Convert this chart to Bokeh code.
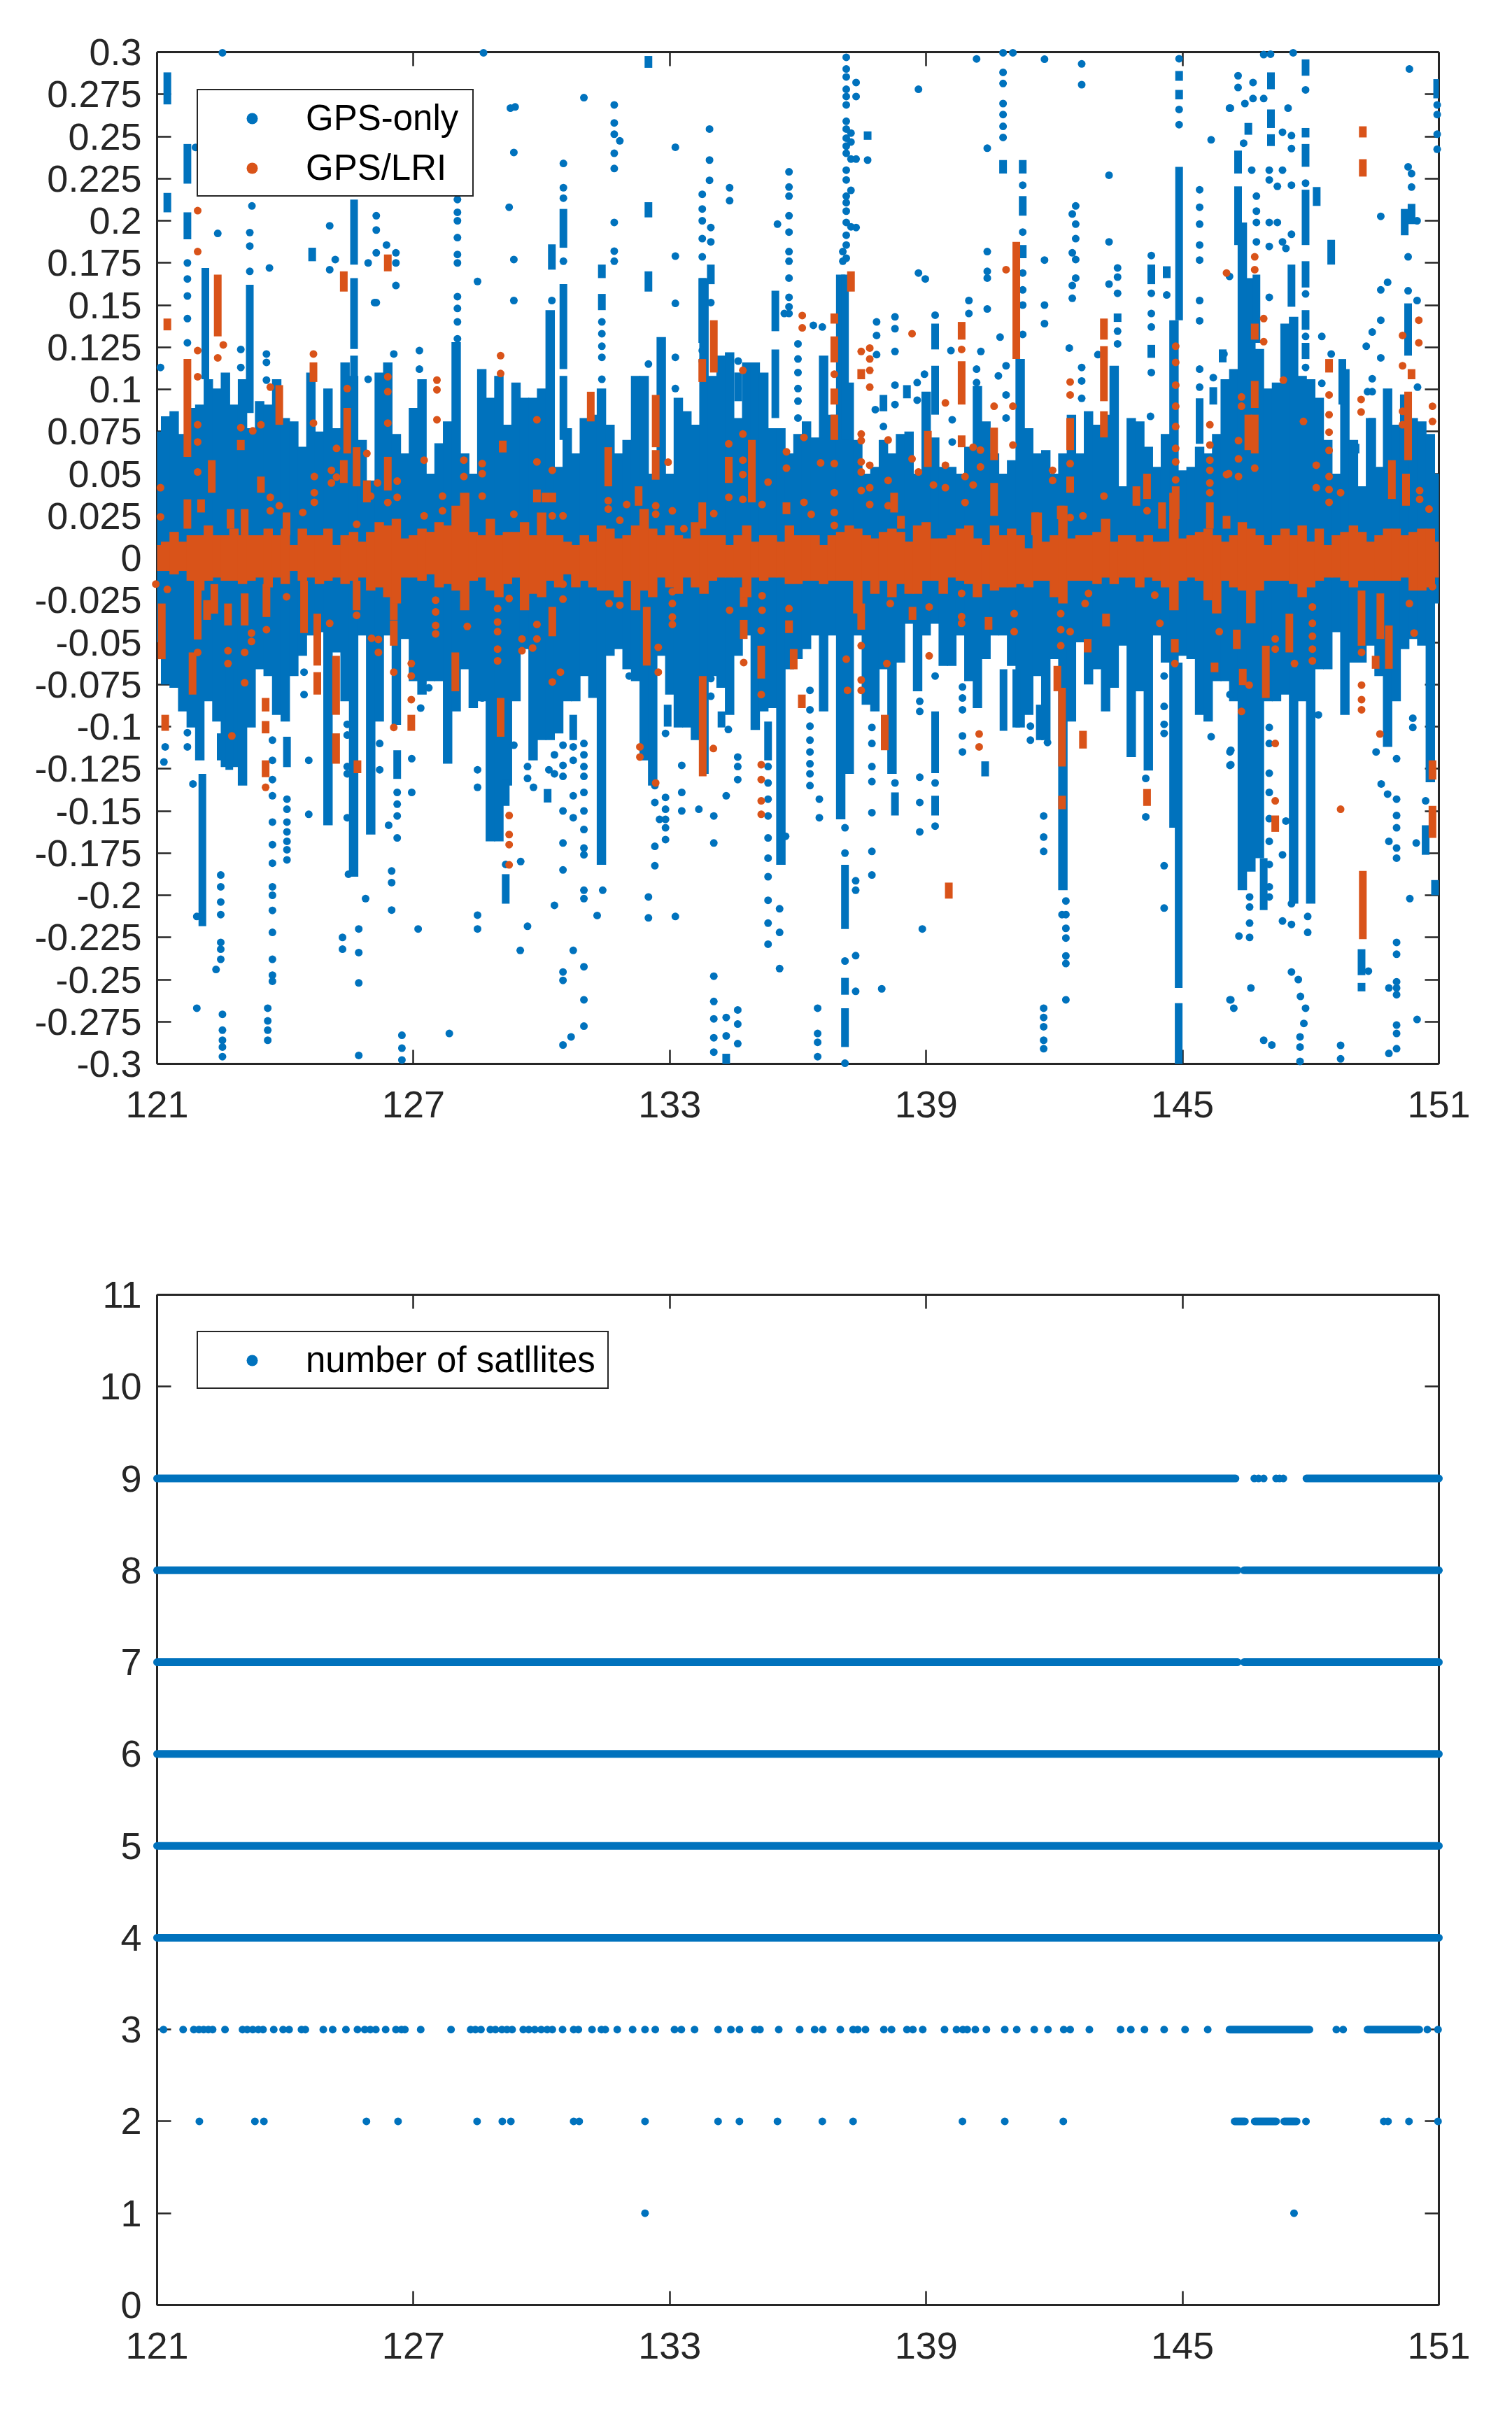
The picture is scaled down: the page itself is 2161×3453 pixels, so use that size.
from bokeh.plotting import figure
from bokeh.models import FixedTicker, LinearAxis, Legend, LegendItem, Range1d
from bokeh.layouts import column
from bokeh.embed import file_html
from bokeh.resources import INLINE

BLUE = "#0072BD"
ORANGE = "#D95319"
INK = "#262626"
FONT = "Liberation Sans"

x_ticks = [121, 127, 133, 139, 145, 151]
x_tick_labels = ["121", "127", "133", "139", "145", "151"]
res_ticks = [-0.3, -0.275, -0.25, -0.225, -0.2, -0.175, -0.15, -0.125, -0.1, -0.075, -0.05, -0.025, 0,
             0.025, 0.05, 0.075, 0.1, 0.125, 0.15, 0.175, 0.2, 0.225, 0.25, 0.275, 0.3]
res_tick_labels = ["-0.3", "-0.275", "-0.25", "-0.225", "-0.2", "-0.175", "-0.15", "-0.125", "-0.1", "-0.075",
                   "-0.05", "-0.025", "0", "0.025", "0.05", "0.075", "0.1", "0.125", "0.15", "0.175", "0.2",
                   "0.225", "0.25", "0.275", "0.3"]
sat_ticks = [0, 1, 2, 3, 4, 5, 6, 7, 8, 9, 10, 11]

days = [121.0, 121.2, 121.4, 121.6, 121.8, 122.0, 122.2, 122.4, 122.6, 122.8, 123.0, 123.2, 123.4, 123.6, 123.8,
        124.0, 124.2, 124.4, 124.6, 124.8, 125.0, 125.2, 125.4, 125.6, 125.8,
        126.0, 126.2, 126.4, 126.6, 126.8, 127.0, 127.2, 127.4, 127.6, 127.8, 128.0, 128.2, 128.4, 128.6, 128.8,
        129.0, 129.2, 129.4, 129.6, 129.8, 130.0, 130.2, 130.4, 130.6, 130.8,
        131.0, 131.2, 131.4, 131.6, 131.8, 132.0, 132.2, 132.4, 132.6, 132.8, 133.0, 133.2, 133.4, 133.6, 133.8,
        134.0, 134.2, 134.4, 134.6, 134.8, 135.0, 135.2, 135.4, 135.6, 135.8,
        136.0, 136.2, 136.4, 136.6, 136.8, 137.0, 137.2, 137.4, 137.6, 137.8, 138.0, 138.2, 138.4, 138.6, 138.8,
        139.0, 139.2, 139.4, 139.6, 139.8, 140.0, 140.2, 140.4, 140.6, 140.8,
        141.0, 141.2, 141.4, 141.6, 141.8, 142.0, 142.2, 142.4, 142.6, 142.8, 143.0, 143.2, 143.4, 143.6, 143.8,
        144.0, 144.2, 144.4, 144.6, 144.8, 145.0, 145.2, 145.4, 145.6, 145.8,
        146.0, 146.2, 146.4, 146.6, 146.8, 147.0, 147.2, 147.4, 147.6, 147.8, 148.0, 148.2, 148.4, 148.6, 148.8,
        149.0, 149.2, 149.4, 149.6, 149.8, 150.0, 150.2, 150.4, 150.6, 150.8, 151.0]

gps_upper = [.075,.084,.087,.0735,.089,.091,.106,.1005,.110,.091,.106,.077,.093,.091,.106,.083,.081,.066,.110,.075,.1005,.077,.116,.108,.070,
             .046,.110,.116,.0735,.062,.089,.106,.050,.068,.081,.128,.062,.050,.112,.095,.108,.079,.104,.095,.095,.1005,.147,.054,.077,.062,
             .083,.085,.1005,.079,.062,.070,.108,.108,.050,.131,.050,.095,.087,.079,.166,.108,.120,.122,.083,.116,.116,.110,.077,.077,.062,
             .0735,.081,.0715,.120,.085,.168,.104,.070,.050,.054,.070,.062,.0735,.075,.050,.0986,.0715,.054,.054,.050,.066,.102,.081,.062,.050,
             .058,.118,.077,.062,.064,.050,.062,.085,.062,.087,.079,.085,.114,.0425,.083,.081,.066,.054,.0735,.141,.052,.054,.066,.062,.0735,
             .106,.112,.199,.166,.124,.1005,.104,.139,.143,.108,.106,.095,.070,.050,.112,.070,.0425,.083,.054,.1005,.079,.097,.083,.081,.0735,.050]
gps_lower = [-.050,-.075,-.077,-.091,-.1005,-.120,-.085,-.097,-.124,-.124,-.135,-.1005,-.066,-.070,-.093,-.097,-.070,-.058,-.046,-.044,-.1585,-.056,-.085,-.189,-.046,
             -.164,-.097,-.046,-.099,-.048,-.073,-.081,-.073,-.073,-.122,-.091,-.066,-.089,-.085,-.168,-.168,-.135,-.085,-.054,-.120,-.108,-.108,-.104,-.085,-.085,
             -.070,-.083,-.182,-.058,-.054,-.066,-.073,-.120,-.135,-.058,-.081,-.1005,-.1005,-.108,-.128,-.070,-.077,-.093,-.058,-.046,-.102,-.091,-.089,-.182,-.066,
             -.060,-.054,-.046,-.091,-.046,-.155,-.128,-.046,-.087,-.091,-.066,-.128,-.062,-.039,-.079,-.046,-.039,-.064,-.064,-.046,-.073,-.089,-.060,-.046,-.046,
             -.064,-.1005,-.093,-.070,-.108,-.060,-.197,-.097,-.050,-.075,-.066,-.091,-.077,-.052,-.118,-.079,-.126,-.046,-.062,-.16,-.058,-.060,-.093,-.097,-.073,
             -.073,-.085,-.197,-.186,-.178,-.085,-.085,-.081,-.205,-.085,-.205,-.066,-.066,-.044,-.093,-.062,-.062,-.052,-.070,-.112,-.085,-.054,-.048,-.052,-.133,-.027]
lri_upper = [.0077,.0097,.0155,.0097,.0135,.0135,.0193,.0135,.0135,.0174,.0135,.0135,.0135,.0174,.0135,.0174,.0077,.0174,.0135,.0135,.0174,.0077,.0135,.0155,.0097,
             .0155,.0213,.0193,.0232,.0116,.0135,.0174,.0155,.0213,.0193,.031,.0387,.0155,.0135,.0232,.0135,.0155,.0155,.0213,.0135,.027,.0135,.0135,.0097,.0077,
             .0135,.0097,.0193,.0174,.0116,.0135,.0193,.029,.0174,.0135,.0193,.0135,.0116,.0213,.0135,.0135,.0135,.0077,.0135,.0193,.0097,.0135,.0135,.0097,.0193,
             .0135,.0135,.0135,.0077,.0135,.0155,.0193,.0174,.0135,.0116,.0155,.0174,.0155,.0097,.0193,.0213,.0116,.0116,.0135,.0174,.0193,.0116,.0077,.0193,.0135,
             .0174,.0135,.0058,.027,.0097,.0135,.031,.0116,.0135,.0135,.0155,.0232,.0097,.0135,.0135,.0097,.0135,.0097,.0097,.0387,.0116,.0135,.0155,.0174,.0135,
             .0097,.0135,.0213,.0174,.0135,.0077,.0135,.0174,.0135,.0193,.0097,.0174,.0077,.0135,.0155,.0193,.0155,.0097,.0135,.0174,.0174,.0135,.0155,.0174,.0174,.0097]
lri_lower = [-.0077,-.0077,-.0097,-.0077,-.0135,-.0193,-.0135,-.0116,-.0135,-.0135,-.0155,-.0135,-.0116,-.0174,-.0116,-.0155,-.0077,-.0135,-.0116,-.0155,-.0135,-.0116,-.0155,-.0135,-.0116,
             -.0193,-.0174,-.0232,-.027,-.0116,-.0116,-.0135,-.0097,-.0174,-.0155,-.0193,-.031,-.0135,-.0116,-.0193,-.0232,-.0155,-.0116,-.031,-.0213,-.0232,-.0135,-.0174,-.0097,-.0174,
             -.0135,-.0174,-.0193,-.0193,-.0232,-.0135,-.031,-.0193,-.0232,-.0116,-.0174,-.0213,-.0116,-.0174,-.0213,-.0135,-.0116,-.0116,-.0116,-.0232,-.0116,-.0135,-.0116,-.0116,-.0155,
             -.0155,-.0135,-.0135,-.0155,-.0135,-.0135,-.0135,-.0329,-.0135,-.0213,-.0135,-.0232,-.0155,-.0213,-.0213,-.0135,-.0135,-.0213,-.0116,-.0135,-.0155,-.0232,-.0155,-.0193,-.0174,
             -.0174,-.0155,-.0174,-.0135,-.0135,-.0232,-.027,-.0135,-.0135,-.0135,-.0155,-.0116,-.0155,-.0116,-.0116,-.0174,-.0116,-.0135,-.0174,-.031,-.0135,-.0116,-.0135,-.0251,-.0329,
             -.0135,-.0174,-.0193,-.0387,-.0193,-.0135,-.0135,-.0135,-.0155,-.0232,-.0174,-.0135,-.0116,-.0116,-.0135,-.0174,-.0135,-.0135,-.0135,-.0135,-.0135,-.0116,-.0193,-.0193,-.0174,-.0116]

# solid stacks of dots: (day, low value, high value)
gps_stacks = [
    (121.24,.269,.288),(121.24,.205,.2165),(121.71,.222,.2455),(121.71,.189,.205),(122.13,.106,.172),(123.17,.086,.162),
    (124.63,.176,.184),(125.61,.174,.2126),(125.61,.124,.166),(125.61,.104,.120),(122.06,-.2184,-.128),(122.49,-.12,-.104),
    (122.69,-.1256,-.066),(124.04,-.124,-.106),(126.62,-.131,-.114),(129.16,-.147,-.1314),(129.16,-.205,-.1875),
    (130.14,-.145,-.137),(130.74,-.108,-.093),(130.24,.171,.186),(130.51,.184,.207),(130.51,.112,.1624),(130.51,.07,.108),
    (131.41,.166,.174),(131.41,.147,.1566),(132.50,.2907,.2977),(132.50,.202,.211),(132.50,.158,.17),(132.95,-.1,-.087),
    (133.76,.1276,.166),(133.96,.1624,.174),(134.21,-.1005,-.091),(134.32,-.3,-.294),(134.60,.093,.11),(135.30,-.12,-.097),
    (135.47,.1345,.1585),(135.47,.083,.1237),(137.10,.07,.168),(137.10,-.22,-.182),(137.10,-.259,-.249),(137.10,-.29,-.267),
    (137.63,.248,.253),(138.27,-.1527,-.139),(138.55,.0947,.1025),(138.0,.087,.0967),(139.21,.1237,.139),(139.21,.085,.114),
    (139.21,-.1276,-.091),(139.21,-.1527,-.141),(140.38,-.1295,-.1206),(140.80,.228,.236),(140.81,-.1025,-.066),(141.11,-.1005,-.066),
    (141.26,.228,.236),(141.26,.203,.2146),(141.26,.1778,.1856),(141.66,-.108,-.087),(143.48,.14,.145),(144.27,.1624,.174),
    (144.27,.1187,.1264),(144.63,.166,.173),(144.92,.283,.2888),(144.92,.272,.2776),(144.92,.141,.232),(144.91,-.255,-.062),
    (144.91,-.3,-.264),(145.40,.0677,.0947),(145.94,.116,.1237),(145.72,.091,.1013),(146.30,.228,.2416),(146.30,.1856,.2204),
    (146.54,.251,.258),(146.73,.1276,.168),(147.07,.278,.288),(147.07,.255,.266),(147.07,.2443,.2513),(147.55,.149,.174),
    (147.88,.286,.2957),(147.88,.2494,.255),(147.88,.232,.2455),(147.88,.1856,.2184),(147.88,.1604,.176),(147.88,.1353,.147),
    (147.88,.118,.1276),(148.14,.2088,.22),(148.48,.174,.1887),(148.74,.091,.118),(149.05,.062,.0677),(149.44,.054,.083),
    (146.90,-.2088,-.178),(149.19,-.2474,-.232),(149.19,-.257,-.252),(150.20,.1914,.207),(150.28,.12,.151),(150.36,.198,.21),
    (150.96,.2726,.284),(150.69,-.176,-.1585),(150.91,-.2,-.191)]

# isolated dots grouped by day: (day, [values])
gps_dots_upper_a = [
    (122.53,[.2996]),(121.71,[.175,.1655,.1554,.142,.1276]),(121.08,[.113]),(121.90,[.2435]),(123.22,[.2088]),(125.04,[.197,.171]),
    (125.17,[.177]),(123.63,[.172]),(125.94,[.175,.106]),(126.09,[.1515]),(122.42,[.1925]),(122.96,[.1237,.113]),(123.56,[.121,.116,.1055]),
    (123.17,[.193,.185,.17]),(126.13,[.203,.1945,.181,.1515]),(126.37,[.1856]),(126.59,[.181,.175,.1616]),(126.54,[.121]),(127.14,[.123,.112]),
    (128.64,[.2996]),(129.27,[.2668]),(129.38,[.2675]),(129.35,[.2405,.177,.1527]),(129.24,[.208]),(128.50,[.164]),(130.99,[.273]),
    (130.51,[.234,.2196,.2134,.176]),(130.24,[.1527]),(128.03,[.2126,.205,.2,.19,.18,.175,.155,.148,.14,.13])]
gps_dots_upper_b = [
    (131.41,[.14,.133,.1256,.119,.106]),(131.70,[.2687,.258,.2513,.24,.231,.199,.182,.176]),(131.83,[.2474]),(133.13,[.2436,.179,.151,.119,.1005]),
    (132.50,[.115]),(133.93,[.2544,.236,.224]),(133.76,[.2157,.207,.2,.1894,.1786,.123,.1168]),(133.96,[.196,.1875,.1515]),(134.40,[.2196,.2119]),
    (135.52,[.198]),(135.79,[.229,.22,.2146,.203,.1933,.1817,.176,.166,.1546,.149,.145]),(135.68,[.145]),(134.60,[.1168]),(136.0,[.127,.118,.11,.1005,.093,.083]),
    (137.13,[.2969,.29,.2853,.278,.2737,.2687,.259,.2544,.249,.2443,.24,.23,.2242,.2146,.2107,.2057,.199,.1914,.1856,.1778]),
    (137.24,[.252,.2467,.2366,.218,.1964]),(137.36,[.282,.2737,.2366,.196]),(137.05,[.1817,.176]),(137.63,[.236]),(138.82,[.278,.169]),(138.98,[.1655]),
    (140.18,[.296]),(140.43,[.243,.1817,.17,.166,.1477]),(140.80,[.2996,.288,.2814,.2695,.263,.256,.2494]),(141.03,[.2996]),(140.0,[.1527,.145]),
    (139.21,[.144]),(140.73,[.131]),(137.84,[.14,.132,.1206]),(138.27,[.143,.136,.1225,.1025,.091]),(136.36,[.138]),(136.57,[.137]),(138.0,[.078]),
    (137.81,[.088]),(138.96,[.109]),(138.79,[.104,.0936]),(139.58,[.123]),(140.28,[.1225]),(140.18,[.104,.112]),(140.69,[.108]),(140.87,[.114,.0967,.083]),
    (139.61,[.082,.0688])]
gps_dots_upper_c = [
    (141.77,[.2958,.1767,.15,.139]),(141.26,[.2211,.1933,.169,.159,.15,.1326]),(142.64,[.293,.2807,.113,.105,.0947]),(142.50,[.2088,.198,.1894,.177,.166]),
    (142.42,[.204,.181,.1616,.154]),(142.35,[.1245]),(143.28,[.227,.1875,.1624]),(143.02,[.1206]),(143.48,[.172,.1666,.157,.1345,.127]),
    (144.27,[.1794,.157,.145,.137,.11]),(144.63,[.156]),(144.92,[.2961,.266,.257]),(145.67,[.248]),(146.10,[.2668,.167]),(145.40,[.2184,.208,.198,.1856,.1767,.1527,.1407,.112,.1013]),
    (145.72,[.107]),(144.25,[.084]),(146.30,[.286,.279]),(146.65,[.282,.2725]),(146.46,[.2695]),(146.12,[.2668]),(146.90,[.2985,.2725]),(147.06,[.2988]),(147.59,[.2996]),
    (147.88,[.2776,.2223,.1566,.1314,.113]),(147.47,[.2668]),(146.43,[.246]),(146.62,[.23]),(146.73,[.2146,.2057,.199,.1875]),(147.03,[.23,.2242,.199,.1848,.1546]),
    (147.22,[.2204,.199]),(147.34,[.2525,.23,.1875]),(147.42,[.1836]),(147.55,[.2505,.2428,.2211,.192]),(148.48,[.121]),(148.26,[.1314,.1036]),(149.30,[.1256]),(149.44,[.134,.1063,.0986]),
    (149.33,[.0986]),(149.64,[.2026,.159,.141,.1187]),(149.80,[.1635]),(150.31,[.29]),(150.28,[.232,.1786,.1585]),(150.36,[.228,.22]),(150.49,[.1527,.2]),(150.50,[.1013]),
    (150.96,[.2687,.263,.2513,.2424]),(145.97,[.121])]
gps_dots_lower_a = [
    (121.19,[-.112]),(121.16,[-.121]),(121.71,[-.1036,-.112]),(121.84,[-.134]),(121.93,[-.2126,-.267]),(122.49,[-.188,-.195,-.204,-.2115,-.228,-.232,-.238]),
    (122.38,[-.244]),(122.53,[-.2706,-.28,-.286,-.29,-.2957]),(123.70,[-.108,-.12,-.1314,-.141,-.1566,-.17,-.181,-.195,-.2,-.209,-.222,-.238,-.2474,-.251]),
    (123.59,[-.267,-.2745,-.28,-.286]),(124.04,[-.143,-.149,-.1566,-.1624,-.168,-.173,-.179]),(124.55,[-.12,-.152]),(124.44,[-.0677,-.081]),
    (125.45,[-.0986,-.105,-.1237,-.128,-.154]),(125.48,[-.1875]),(125.88,[-.202]),(125.34,[-.225,-.232]),(125.72,[-.22,-.234,-.252,-.295]),
    (126.62,[-.139,-.146,-.153,-.166]),(126.49,[-.1856,-.1925,-.2088]),(126.42,[-.1585]),(126.21,[-.11,-.1256]),(126.73,[-.283,-.2907,-.2977]),(127.11,[-.22]),
    (126.96,[-.119,-.139]),(127.17,[-.089]),(127.36,[-.077]),(127.84,[-.282]),(128.50,[-.1256,-.136,-.2118,-.22]),(128.61,[-.083]),(129.16,[-.1817]),(129.35,[-.111]),
    (129.51,[-.18]),(129.67,[-.1237,-.1307,-.2184]),(129.50,[-.2327]),(129.81,[-.136]),(130.30,[-.1167,-.128,-.206]),(130.17,[-.1256]),
    (130.50,[-.111,-.123,-.1295,-.15,-.169,-.185,-.2455,-.2505,-.2888]),(130.74,[-.112,-.12,-.141,-.154,-.2327]),
    (130.99,[-.11,-.1167,-.1237,-.1295,-.139,-.15,-.161,-.172,-.176,-.197,-.202,-.2424,-.262,-.2776]),(130.69,[-.284])]
gps_dots_lower_b = [
    (131.43,[-.197]),(131.30,[-.212]),(132.05,[-.07]),(132.50,[-.201,-.2134]),(132.65,[-.135,-.145,-.171,-.1825]),(132.90,[-.104,-.142,-.149,-.155,-.16,-.167]),
    (132.76,[-.155]),(133.13,[-.2126]),(133.28,[-.123,-.139,-.15]),(133.68,[-.149]),(134.03,[-.153,-.169,-.248,-.263,-.2733,-.2845,-.293]),(134.32,[-.141,-.2725,-.2834]),
    (134.59,[-.118,-.1237,-.1314,-.268,-.2764,-.288]),(134.37,[-.1017]),(133.96,[-.0715,-.082]),(135.30,[-.1237,-.1334,-.143,-.153,-.166,-.178,-.189,-.203,-.2165,-.229]),
    (135.57,[-.208,-.222,-.2435]),(135.71,[-.165]),(136.28,[-.0785,-.09,-.0997,-.108,-.115,-.122,-.128,-.135]),(136.50,[-.143,-.154]),(136.46,[-.267,-.282,-.2872,-.2957]),
    (137.10,[-.16,-.175,-.239,-.2996]),(137.35,[-.1914,-.197,-.2358,-.257]),(138.27,[-.1334]),(137.73,[-.1005,-.11,-.1237,-.1326,-.151,-.174,-.188]),(137.96,[-.2555]),
    (138.85,[-.085,-.091,-.13,-.145,-.1624]),(138.91,[-.22]),(139.21,[-.07,-.1334,-.159]),(139.85,[-.0765,-.083,-.09,-.1055,-.115])]
gps_dots_lower_c = [
    (141.44,[-.0997,-.108]),(141.84,[-.1094]),(141.75,[-.153,-.1655,-.174,-.267,-.2725,-.278,-.286,-.291]),(142.27,[-.2034,-.2115,-.2196,-.2254,-.236,-.2405,-.262]),
    (142.18,[-.2115]),(144.14,[-.1307,-.1535]),(144.57,[-.07,-.088,-.0986,-.104,-.1825,-.2076]),(145.67,[-.106]),(146.11,[-.115,-.123,-.081,-.262]),
    (146.57,[-.201,-.207,-.2165,-.225]),(146.32,[-.2242]),(146.13,[-.114,-.1226,-.262]),(146.20,[-.267]),(146.60,[-.255]),(146.90,[-.286]),(147.09,[-.2888]),
    (147.03,[-.1005,-.11,-.1276,-.139,-.1546,-.168,-.1817,-.195,-.201]),(147.34,[-.176,-.2153]),(147.42,[-.156]),(147.55,[-.205,-.2173,-.2455]),(147.71,[-.25]),(147.76,[-.26]),
    (147.88,[-.267]),(147.84,[-.276]),(147.75,[-.284,-.29,-.2985]),(147.93,[-.2126,-.222]),(148.18,[-.093]),(148.70,[-.289,-.297]),(149.35,[-.245]),(149.53,[-.115]),
    (149.65,[-.134]),(149.80,[-.14]),(150.01,[-.119,-.143,-.1527,-.16,-.172,-.178,-.228,-.235,-.2513,-.255,-.259,-.277,-.282,-.291]),(149.83,[-.168,-.255,-.2938]),
    (150.39,[-.095,-.1005]),(150.47,[-.169]),(150.49,[-.2737]),(150.32,[-.202]),(150.69,[-.144])]

lri_stacks = [
    (121.24,.135,.142),(121.71,.06,.118),(121.71,.0174,.0348),(122.03,.027,.0348),(122.28,.0387,.058),(122.42,.1314,.168),(121.11,-.06,-.027),
    (121.19,-.1025,-.093),(121.95,-.0483,-.0116),(122.17,-.0367,-.025),(121.83,-.081,-.056),(122.34,-.033,-.0155),(122.72,.0174,.029),(122.66,-.04,-.027),
    (122.96,.064,.07),(123.43,.0387,.0483),(123.05,.0135,.029),(123.86,.079,.1025),(123.05,-.04,-.021),(123.56,-.035,-.0155),(123.54,-.091,-.083),(123.54,-.104,-.0967),
    (123.54,-.13,-.12),(124.03,.0135,.027),(124.44,-.0445,-.0135),(124.66,.1044,.116),(124.75,-.0638,-.033),(124.75,-.081,-.0677),(125.19,-.093,-.058),(125.19,-.122,-.104),
    (125.37,.158,.17),(125.45,.062,.089),(125.37,.0445,.058),(125.67,.0425,.0657),(125.67,-.031,-.0135),(125.69,-.1276,-.12),(125.91,.033,.046),
    (126.40,.17,.18),(126.40,.04,.06),(126.54,-.0367,-.023),(126.54,-.052,-.037),(126.95,-.1025,-.093),(127.98,-.079,-.056),(129.09,.0626,.0696),(129.04,-.106,-.083),
    (129.89,.033,.0406),(130.25,.033,.0387),(130.09,.033,.0387),(130.25,-.0464,-.029),(131.15,.081,.0986),(131.56,.0425,.0657),(132.27,.031,.0425),(132.67,.0657,.0967),
    (132.67,.0464,.064),(132.46,-.0638,-.029),(133.76,.1044,.118),(133.76,.0174,.033),(134.03,.11,.141),(133.77,-.1295,-.07),(134.38,.0445,.06),(134.92,.033,.07),
    (134.73,-.029,-.0174),(134.73,-.048,-.0367),(135.14,-.0715,-.052),(135.73,.026,.033),(135.79,-.0445,-.037),(135.90,-.066,-.054),(136.09,-.089,-.081),
    (136.85,.139,.145),(136.85,.116,.1314),(136.85,.091,.1005),(136.85,.07,.085),(137.24,.158,.17),(137.48,.106,.112),(137.48,-.0425,-.027),(138.03,-.114,-.093),
    (138.25,.027,.0387),(138.41,.0174,.025),(139.04,.054,.0754),(138.68,-.0367,-.029),(139.53,-.202,-.1925),(139.83,.1295,.14),(139.83,.091,.1167),(139.83,.0657,.0727),
    (140.46,-.0425,-.035),(140.59,.058,.0773),(140.59,.025,.0445),(141.11,.118,.1875),(141.55,.0135,.027),(142.07,-.079,-.064),(142.18,-.1237,-.077),(142.18,-.149,-.141),
    (142.37,.064,.083),(142.37,.0387,.0483),(142.15,.023,.031),(142.78,-.056,-.048),(142.67,-.113,-.1025),(143.16,.1295,.142),(143.16,.093,.1256),(143.16,.0715,.087),
    (143.21,-.0406,-.033),(143.92,.031,.0425),(144.17,.035,.05),(144.17,-.147,-.137),(144.52,.0174,.033),(144.82,-.056,-.048),(144.84,.023,.0425),(145.64,.0174,.033),
    (145.75,-.0677,-.062),(146.03,.0174,.025),(146.54,.064,.085),(146.69,.089,.105),(146.69,.062,.085),(146.69,.1295,.139),(146.27,-.054,-.0425),(146.41,-.0754,-.0657),
    (146.95,-.083,-.052),(147.17,-.1624,-.1527),(147.50,-.056,-.033),(148.43,.11,.118),(149.22,.2494,.256),(149.22,.2262,.2365),(149.19,-.052,-.0193),(149.22,-.226,-.1856),
    (149.63,-.048,-.021),(149.52,-.0657,-.058),(149.83,-.0657,-.04),(149.90,.035,.058),(150.28,.058,.0986),(150.85,-.1314,-.12),(150.85,-.166,-.147),(150.23,.031,.05),(150.36,.106,.112)]

lri_dots_a = [
    (121.95,[.206,.1817,.123,.1075,.079,.0688,.051,-.056]),(122.42,[.1187]),(122.55,[.1264]),(121.08,[.0417,.0244]),(120.97,[-.0155]),(121.24,[-.0186]),(122.75,[-.1055]),
    (122.66,[-.055,-.0626]),(122.96,[.0773]),(123.24,[.0754]),(123.43,[.079]),(123.65,[.036,.028,.1013]),(123.86,[.031]),(123.21,[-.0445,-.0495]),(123.05,[-.056,-.074]),
    (123.56,[-.0425]),(123.54,[-.136]),(124.03,[-.023]),(124.41,[.027]),(124.66,[.121,.08]),(124.68,[.0483,.0387,.033]),(125.04,[-.0387]),(125.08,[.052,.0445]),(125.2,[.065,.048]),
    (125.45,[.1005]),(125.67,[.02,-.034]),(125.91,[.062]),(126.02,[-.0476]),(126.0,[.0367]),(126.40,[.1075,.0986,.08,.0329]),(126.62,[.0456,.036]),(126.16,[.0445]),(126.54,[-.0677,-.1005]),
    (126.18,[-.0483,-.056]),(126.95,[-.0626,-.07,-.084]),(127.25,[.058,.025]),(127.55,[.1055,.0997,.082]),(127.68,[.0367,.028]),(127.52,[-.025,-.032,-.04,-.045]),(128.18,[.058,.0483]),
    (128.26,[-.0406]),(128.61,[.056,.05,.0367]),(129.04,[.12,.1094]),(129.35,[.026]),(128.97,[-.03,-.038,-.0437,-.054,-.061]),(129.24,[-.024,-.1527,-.164,-.17,-.182]),
    (129.54,[-.048,-.055]),(129.79,[-.0534]),(129.89,[.082,.057,-.0394,-.048]),(130.25,[.052,.025,-.0735]),(130.44,[-.0677]),(130.50,[.025,-.0155,-.0244])]
lri_dots_b = [
    (131.56,[.034,.029]),(131.58,[-.027]),(131.83,[.0224,-.028]),(131.99,[.0317]),(132.30,[-.112,-.118]),(132.67,[.031,.026,-.1334]),(132.73,[-.053,-.0677]),(132.96,[.0568]),
    (133.06,[.028,-.02,-.027,-.035,-.0394]),(133.33,[.0174]),(134.03,[.0263]),(134.02,[-.113]),(134.38,[.0677,.036]),(134.40,[-.031]),(134.71,[.1113,.0735,.058,.0495,.0348]),
    (134.73,[-.062]),(135.14,[-.043,-.081,-.1226,-.1314,-.144,-.152]),(135.16,[-.0224,-.031,.0317]),(135.30,[.045]),(135.73,[.063,.0533]),(135.79,[-.03]),(136.10,[.1438,.1365]),
    (136.14,[.0715,.033]),(136.31,[.0259]),(136.53,[.0564]),(136.85,[.109,.056,.0387,.027,.0193]),(137.13,[-.06]),(137.16,[-.0785]),(137.48,[.1225,.0735,.0696,.057,.051,.04,-.052,-.0723,-.0785]),
    (137.68,[.1245,.118,.1113,.1013,.055,.0417,.0317]),(138.11,[.07,.046,.031]),(138.08,[-.0626]),(138.16,[-.027]),(138.67,[.133,.0588]),(138.82,[.051]),(139.17,[.0433]),(139.07,[-.029,-.058]),
    (139.45,[.092,.055,.0417]),(139.83,[.1237,-.021,-.0348,-.0387]),(139.91,[.0483,.0329]),(140.24,[-.1044,-.112]),(140.10,[.0657,.0433]),(140.27,[.064,.054]),(140.59,[.09]),(140.87,[.171]),
    (141.03,[.09,.067]),(141.06,[-.033,-.0437])]
lri_dots_c = [
    (141.96,[.052,.046]),(142.37,[.1044,.0967,.056,.024,-.0437]),(142.15,[-.033,-.0425,-.052]),(142.67,[.025]),(142.80,[-.021]),(142.72,[-.027]),(143.16,[.0367]),(143.21,[.0]),(144.17,[.028]),
    (144.35,[-.022]),(144.47,[-.0387]),(144.84,[.1256,.116,.1025,.09,.078,.065,.057,.0464]),(144.82,[-.0626]),(145.64,[.079,.067,.058,.052,.0445,.0387]),(145.86,[-.0437]),
    (146.03,[.169,.0495]),(146.38,[.0955,.09,-.091]),(146.31,[.0696,.0588,.0483]),(146.69,[.1786,.171,.0533]),(146.90,[.142,.1283]),(146.08,[.05]),(146.56,[-.0754]),
    (147.17,[-.048,-.054,-.11,-.144]),(147.36,[.1055]),(147.83,[.081]),(147.62,[-.0626]),(148.04,[-.029,-.0387,-.0464,-.054,-.061]),
    (148.43,[.0967,.085,.0746,.0638,.0483,.0406,.033]),(148.13,[.055,.0417]),(148.70,[.0387,-.149]),(149.18,[.094,.0866]),(149.19,[-.056,-.0754,-.084,-.09]),(149.62,[-.1044]),
    (150.15,[.132,.114,.087,.079]),(150.53,[.141,.1276]),(150.31,[-.027]),(150.42,[-.0445]),(150.55,[.04,.0348]),(150.77,[.029]),(150.85,[.09,.081,-.017])]

# number of satellites: continuous runs (count, first day, last day)
sat_runs = [(9,121.0,146.24),(9,147.9,151.0),(8,121.0,146.29),(8,146.44,151.0),(7,121.0,146.29),(7,146.44,151.0),
            (6,121.0,151.0),(5,121.0,151.0),(4,121.0,151.0),(3,146.10,147.97),(3,149.33,150.54),(2,146.22,146.46),
            (2,146.69,147.19),(2,147.38,147.67)]
sat_9_days = [146.68,146.78,146.9,147.19,147.27,147.36]
sat_3_days = [121.15,121.61,121.86,121.98,122.09,122.20,122.30,122.59,123.0,123.11,123.24,123.37,123.48,123.73,123.95,124.09,124.38,124.47,
              124.89,125.11,125.42,125.69,125.86,125.99,126.12,126.35,126.59,126.72,126.80,127.17,127.88,128.34,128.45,128.58,128.80,128.92,129.07,
              129.19,129.31,129.57,129.70,129.84,129.99,130.13,130.25,130.49,130.75,130.86,131.18,131.40,131.49,131.77,132.13,132.42,132.66,133.11,
              133.27,133.58,134.13,134.43,134.63,134.99,135.11,135.55,136.04,136.39,136.58,136.99,137.29,137.40,137.58,138.01,138.19,138.55,138.69,
              138.92,139.43,139.71,139.86,139.96,140.15,140.41,140.84,141.12,141.53,141.85,142.22,142.37,142.82,143.55,143.79,144.11,144.57,145.06,
              145.59,148.6,148.76,150.73,150.98]
sat_2_days = [121.99,123.29,123.50,125.90,126.64,128.49,129.08,129.28,130.75,130.88,132.42,134.13,134.63,135.52,136.57,137.29,139.85,140.84,
              142.21,147.89,149.71,149.81,150.30,150.98]
sat_1_days = [132.42,147.61]


def flat(*groups):
    xs, ys = [], []
    for g in groups:
        for d, vals in g:
            for v in vals:
                xs.append(d)
                ys.append(v)
    return xs, ys


def style(p, yt, ylabels):
    p.xgrid.visible = False
    p.ygrid.visible = False
    p.outline_line_color = None
    p.background_fill_color = "white"
    p.border_fill_color = "white"
    p.add_layout(LinearAxis(), "above")
    p.add_layout(LinearAxis(), "right")
    for ax, ticks, labels in [(p.below[0], x_ticks, x_tick_labels), (p.above[0], x_ticks, None),
                              (p.left[0], yt, ylabels), (p.right[0], yt, None)]:
        ax.ticker = FixedTicker(ticks=ticks)
        ax.major_tick_in = 20
        ax.major_tick_out = 0
        ax.minor_tick_line_color = None
        ax.major_tick_line_color = INK
        ax.major_tick_line_width = 2.5
        ax.axis_line_color = INK
        ax.axis_line_width = 3
        if labels is None:
            ax.major_label_overrides = {t: "" for t in ticks}
            ax.major_label_standoff = 0
        else:
            ax.major_label_overrides = dict(zip(ticks, labels))
            ax.major_label_text_font = FONT
            ax.major_label_text_font_size = "54px"
            ax.major_label_text_color = INK
    p.below[0].major_label_standoff = 39
    p.left[0].major_label_standoff = 22


def make_legend(items, x, y, label_width):
    return Legend(items=items, location=(x, y), orientation="vertical", margin=0, padding=10, spacing=12,
                  glyph_width=134, glyph_height=40, label_standoff=10, label_text_font=FONT,
                  label_text_font_size="51px", label_text_color="black", label_height=58, label_width=label_width,
                  border_line_color=INK, border_line_width=2.5, border_line_alpha=1,
                  background_fill_color="white", background_fill_alpha=1)


common = dict(output_backend="svg", toolbar_location=None, frame_width=1832, min_border_left=224, min_border_right=90)

p1 = figure(frame_height=1446, min_border_top=74, min_border_bottom=180,
            x_range=Range1d(121, 151), y_range=Range1d(-0.3, 0.3), **common)

p1.vbar(x=days, top=gps_upper, bottom=gps_lower, width=0.22, color=BLUE, line_color=None, level="annotation")
sx, slo, shi = zip(*gps_stacks)
p1.vbar(x=sx, bottom=slo, top=shi, width=0.18, color=BLUE, line_color=None, level="annotation")
bx, by = flat(gps_dots_upper_a, gps_dots_upper_b, gps_dots_upper_c, gps_dots_lower_a, gps_dots_lower_b, gps_dots_lower_c)
r_gps = p1.scatter(bx, by, marker="circle", size=11, color=BLUE, line_color=None, level="annotation")

lx, llo, lhi = zip(*lri_stacks)
p1.vbar(x=lx, bottom=llo, top=lhi, width=0.18, color=ORANGE, line_color=None, level="annotation")
ox, oy = flat(lri_dots_a, lri_dots_b, lri_dots_c)
r_lri = p1.scatter(ox, oy, marker="circle", size=11, color=ORANGE, line_color=None, level="annotation")
p1.vbar(x=days, top=lri_upper, bottom=lri_lower, width=0.22, color=ORANGE, line_color=None, level="annotation")
style(p1, res_ticks, res_tick_labels)
p1.add_layout(make_legend([LegendItem(label="GPS-only", renderers=[r_gps]), LegendItem(label="GPS/LRI", renderers=[r_lri])],
                          57, 1239, 228), "center")

p2 = figure(frame_height=1444, min_border_top=150, min_border_bottom=143,
            x_range=Range1d(121, 151), y_range=Range1d(0, 11), **common)
cy, c0, c1 = zip(*sat_runs)
p2.segment(x0=c0, x1=c1, y0=cy, y1=cy, line_color=BLUE, line_width=11, line_cap="round", level="annotation")
dx = sat_9_days + sat_3_days + sat_2_days + sat_1_days
dy = [9] * len(sat_9_days) + [3] * len(sat_3_days) + [2] * len(sat_2_days) + [1] * len(sat_1_days)
r_sat = p2.scatter(dx, dy, marker="circle", size=11, color=BLUE, line_color=None, level="annotation")
style(p2, sat_ticks, [str(t) for t in sat_ticks])
p2.add_layout(make_legend([LegendItem(label="number of satllites", renderers=[r_sat])], 57, 1309, 421), "center")

layout = column(p1, p2, spacing=0)
open("out.html", "w").write(file_html(layout, INLINE))
